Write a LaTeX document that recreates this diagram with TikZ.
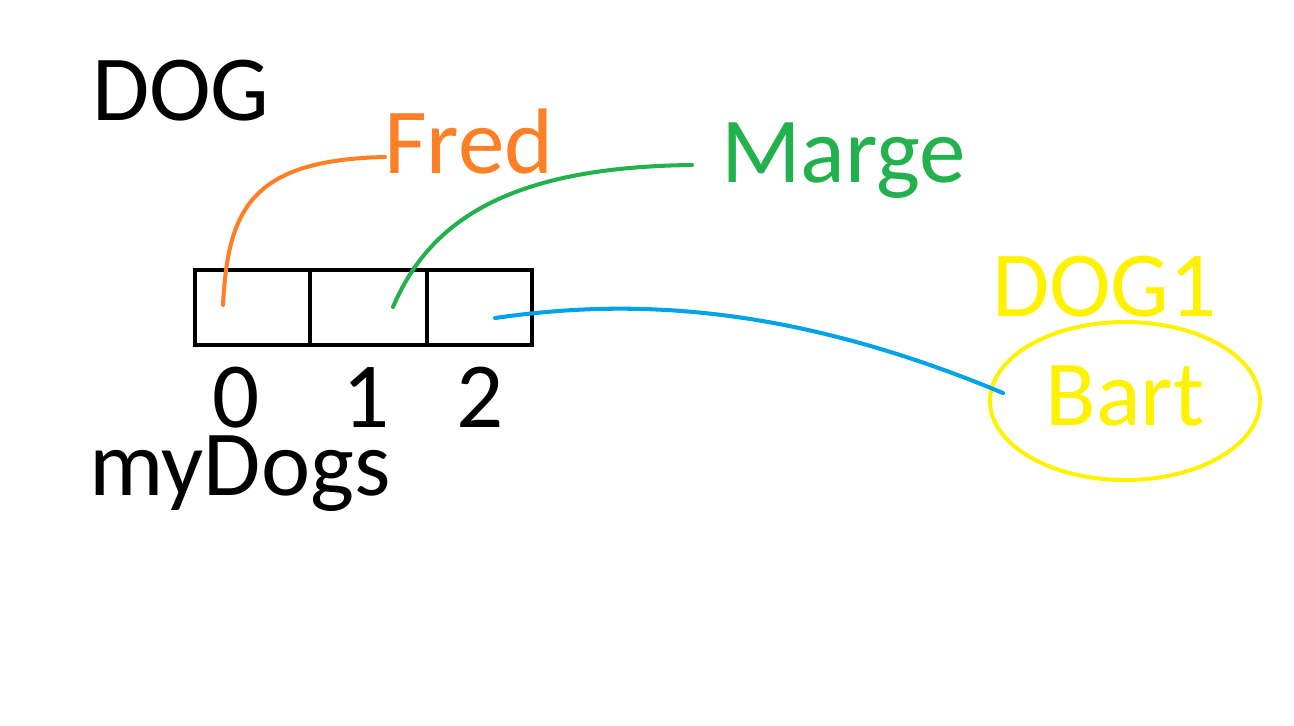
\documentclass[tikz,border=0pt]{standalone}
\usepackage{fontspec}
\setmainfont{Carlito}
\usetikzlibrary{shapes.geometric}
\definecolor{paintorange}{RGB}{255,127,39}
\definecolor{paintgreen}{RGB}{34,177,76}
\definecolor{paintblue}{RGB}{0,162,232}
\definecolor{paintyellow}{RGB}{255,242,0}
\tikzset{
  bigtext/.style={inner sep=0pt, outer sep=0pt, font=\fontsize{53}{60}\selectfont},
  cell/.style={draw=black, line width=2.3pt, minimum height=1.5cm, inner sep=0pt, outer sep=0pt},
  link/.style={line width=2.3pt, line cap=round},
  objring/.style={draw=paintyellow, line width=2.3pt, ellipse, minimum width=5.4cm, minimum height=3.16cm, inner sep=0pt}
}
\begin{document}
\begin{tikzpicture}[x=0.02cm, y=-0.02cm]
\useasboundingbox[fill=white] (0,0) rectangle (1294,725);
% labels
\node[bigtext, anchor=base west] (dog) at (92,120) {DOG};
\node[bigtext, anchor=base west, text=paintorange] (fred) at (384,173) {Fred};
\node[bigtext, anchor=base west, text=paintgreen] (marge) at (721,182) {Marge};
\node[bigtext, anchor=base west, text=paintyellow] (dogone) at (992,316) {DOG1};
\node[bigtext, anchor=base west, text height=30pt] (mydogs) at (89,495) {myDogs};
% array cells
\node[cell, minimum width=2.3cm] (c0) at (252.5,307.5) {};
\node[cell, minimum width=2.34cm] (c1) at (368.5,307.5) {};
\node[cell, minimum width=2.1cm] (c2) at (479.5,307.5) {};
% indices
\node[bigtext, anchor=base, text depth=0pt] (i0) at (236,427) {0};
\node[bigtext, anchor=base, text depth=0pt] (i1) at (366,427) {1};
\node[bigtext, anchor=base, text depth=0pt] (i2) at (480,427) {2};
% object
\node[objring, bigtext, text=paintyellow, text height=34pt, text depth=5.7pt] (bart) at (1125,401) {Bart};
% connector end points
\coordinate (p0) at (223,305);
\coordinate (p1) at (393,307);
\coordinate (p2) at (495,318);
\coordinate (fredend) at (385,157);
\coordinate (margeend) at (692,165);
\coordinate (bartend) at (1003,393);
% connectors
\draw[link, paintorange] (p0) .. controls (228,210) and (250,160) .. (fredend);
\draw[link, paintgreen] (p1) .. controls (430,220) and (510,167) .. (margeend);
\draw[link, paintblue] (p2) .. controls (620,300) and (780,300) .. (bartend);
\end{tikzpicture}
\end{document}
